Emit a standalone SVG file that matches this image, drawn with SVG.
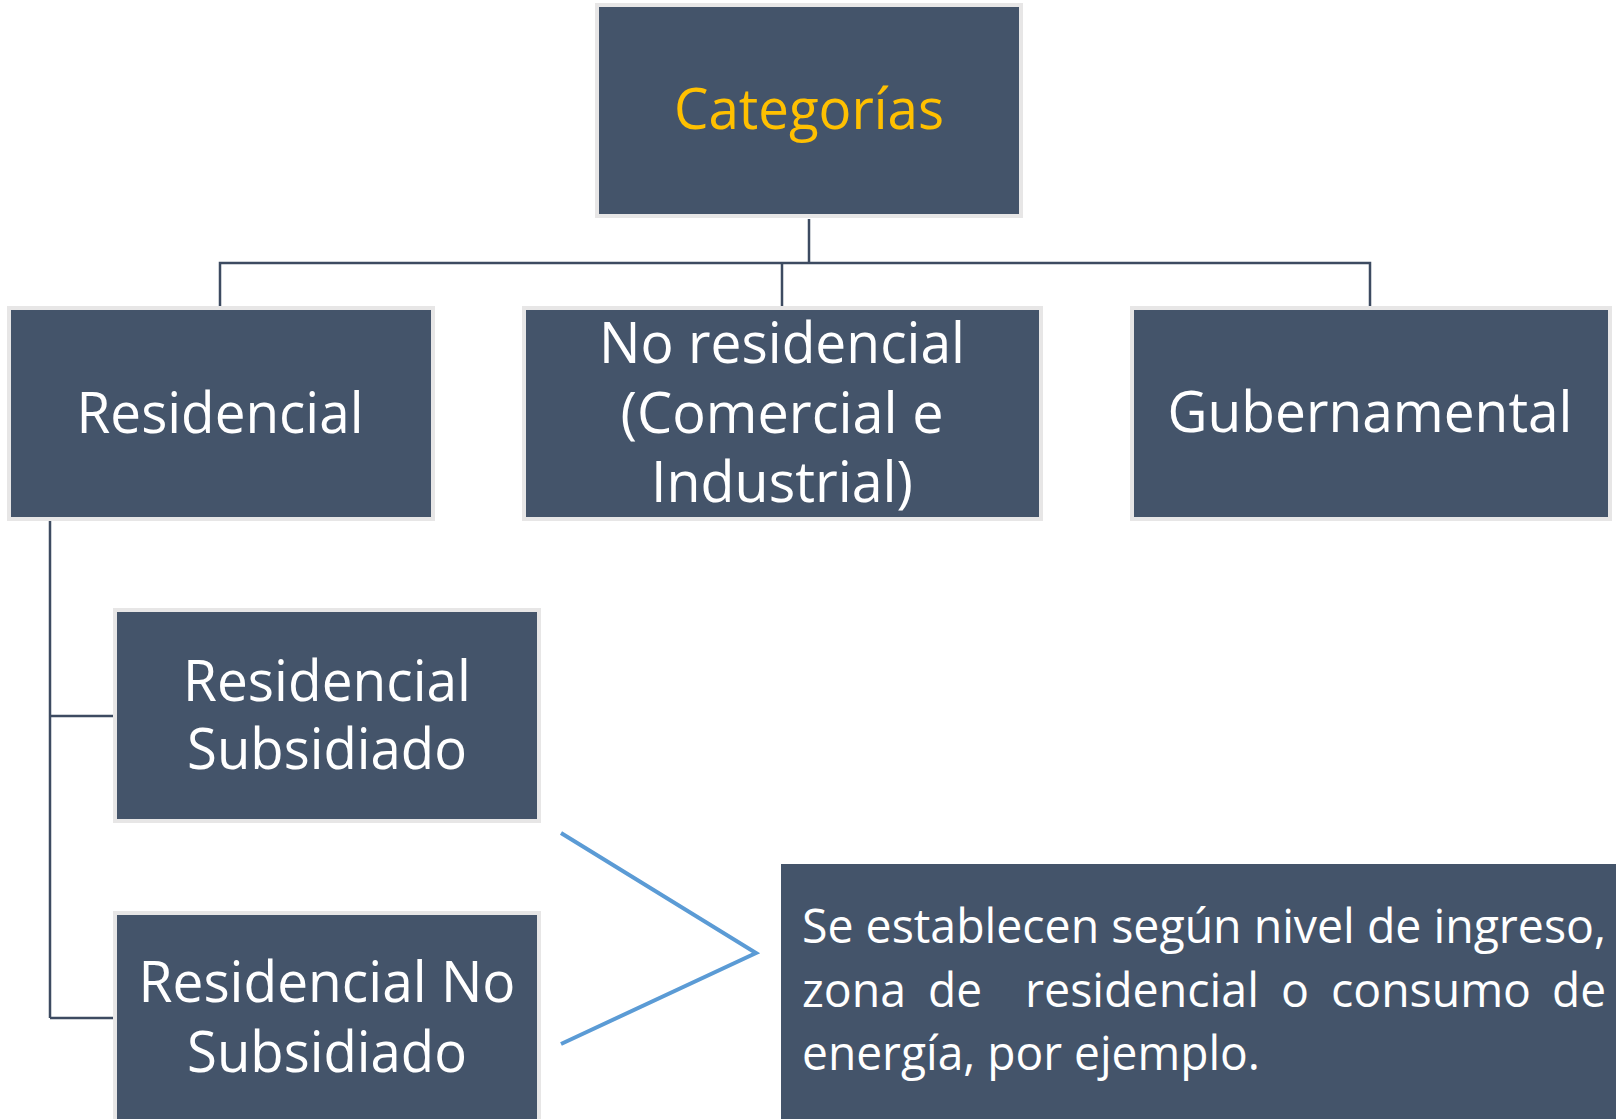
<svg xmlns="http://www.w3.org/2000/svg" width="1616" height="1119" viewBox="0 0 1616 1119">
<style>
.box{fill:#44546A;stroke:#E7E6E6;stroke-width:4}
.lbl{font-family:"Open Sans","Noto Sans",sans-serif;font-size:57px;fill:#FFFFFF;text-anchor:middle}
.title{fill:#FFC000}
.desc{font-family:"Open Sans","Noto Sans",sans-serif;font-size:48px;fill:#FFFFFF}
.conn{fill:none;stroke:#3D4B61;stroke-width:2.5}
.brace{fill:none;stroke:#5B9BD5;stroke-width:4}
</style>
<rect width="1616" height="1119" fill="#FFFFFF"/>
<g id="connectors">
<path class="conn" d="M809,219 V263 M220,306 V263 H1370 V306 M782,263 V306"/>
<path class="conn" d="M50,521 V1018 M50,716 H113 M50,1018 H113"/>
<polyline class="brace" points="561,833 756,953 561,1044"/>
</g>
<g id="node-categorias">
<rect class="box" x="597" y="5" width="424" height="211"/>
<text class="lbl title" x="809" y="129" font-size="56" textLength="270" lengthAdjust="spacingAndGlyphs">Categorías</text>
</g>
<g id="node-residencial">
<rect class="box" x="9" y="308" width="424" height="211"/>
<text class="lbl" x="220" y="433" textLength="287" lengthAdjust="spacingAndGlyphs">Residencial</text>
</g>
<g id="node-no-residencial">
<rect class="box" x="524" y="308" width="517" height="211"/>
<text class="lbl" x="782" y="363" textLength="366" lengthAdjust="spacingAndGlyphs">No residencial</text>
<text class="lbl" x="782" y="433" textLength="323" lengthAdjust="spacingAndGlyphs">(Comercial e</text>
<text class="lbl" x="782" y="502" textLength="262" lengthAdjust="spacingAndGlyphs">Industrial)</text>
</g>
<g id="node-gubernamental">
<rect class="box" x="1132" y="308" width="478" height="211"/>
<text class="lbl" x="1370" y="432" textLength="405" lengthAdjust="spacingAndGlyphs">Gubernamental</text>
</g>
<g id="node-res-subsidiado">
<rect class="box" x="115" y="610" width="424" height="211"/>
<text class="lbl" x="327" y="701" textLength="288" lengthAdjust="spacingAndGlyphs">Residencial</text>
<text class="lbl" x="327" y="769" textLength="280" lengthAdjust="spacingAndGlyphs">Subsidiado</text>
</g>
<g id="node-res-no-subsidiado">
<rect class="box" x="115" y="913" width="424" height="210"/>
<text class="lbl" x="327" y="1002" textLength="377" lengthAdjust="spacingAndGlyphs">Residencial No</text>
<text class="lbl" x="327" y="1072" textLength="280" lengthAdjust="spacingAndGlyphs">Subsidiado</text>
</g>
<g id="node-descripcion">
<rect x="781" y="864" width="835" height="255" fill="#44546A"/>
<text class="desc" x="802" y="943" textLength="804" lengthAdjust="spacingAndGlyphs">Se establecen según nivel de ingreso,</text>
<text class="desc" y="1007"><tspan x="802" textLength="104" lengthAdjust="spacingAndGlyphs">zona</tspan> <tspan x="928" textLength="54" lengthAdjust="spacingAndGlyphs">de</tspan>  <tspan x="1025" textLength="234" lengthAdjust="spacingAndGlyphs">residencial</tspan> <tspan x="1281" textLength="28" lengthAdjust="spacingAndGlyphs">o</tspan> <tspan x="1331" textLength="200" lengthAdjust="spacingAndGlyphs">consumo</tspan> <tspan x="1552" textLength="54" lengthAdjust="spacingAndGlyphs">de</tspan></text>
<text class="desc" x="802" y="1070" textLength="458" lengthAdjust="spacingAndGlyphs">energía, por ejemplo.</text>
</g>
</svg>
